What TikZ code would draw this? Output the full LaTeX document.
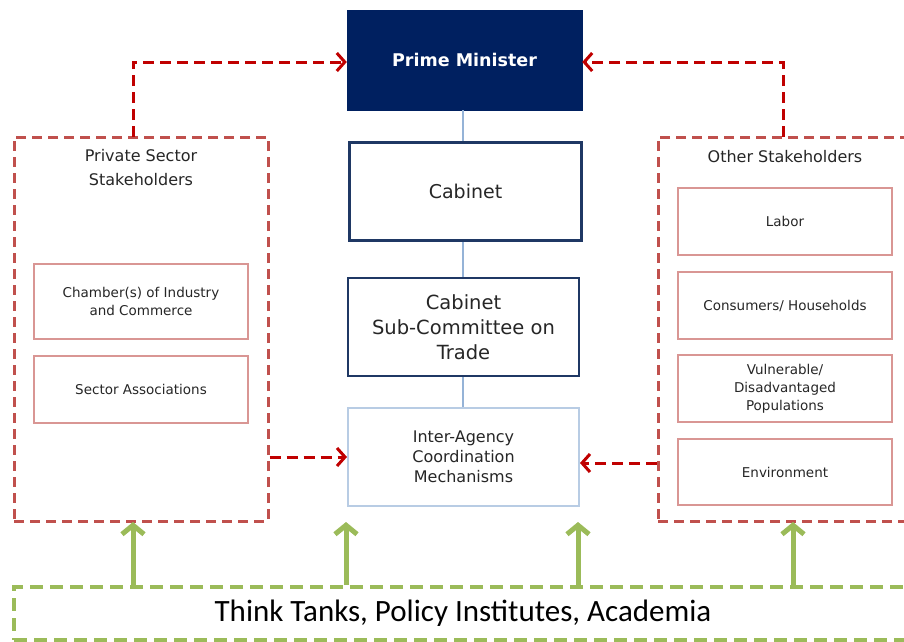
\documentclass[tikz,border=0pt]{standalone}
\usepackage{fontspec}
\setmainfont{DejaVu Sans}
\newfontfamily\thinkfont{Carlito}
\usetikzlibrary{arrows.meta}
\definecolor{navy}{HTML}{002060}
\definecolor{navyb}{HTML}{1F3864}
\definecolor{lblue}{HTML}{B8CCE4}
\definecolor{conn}{HTML}{95B3D7}
\definecolor{dred}{HTML}{C00000}
\definecolor{bred}{HTML}{C0504D}
\definecolor{pred}{HTML}{D99694}
\definecolor{lgreen}{HTML}{9BBB59}
\definecolor{txt}{HTML}{262626}
\tikzset{
  box/.style={rectangle, align=center, inner sep=2pt, text=txt},
  pmbox/.style={box, fill=navy, draw=navy, text=white, font=\fontsize{17.5}{20}\selectfont\bfseries},
  govbox/.style={box, draw=navyb, line width=2.5pt},
  iabox/.style={box, draw=lblue, line width=2pt, font=\fontsize{16}{20}\selectfont},
  groupbox/.style={rectangle, draw=bred, line width=3pt, dash pattern=on 10pt off 6pt},
  subbox/.style={box, draw=pred, line width=1.3pt, minimum width=214pt, font=\fontsize{13.5}{18}\selectfont},
  redarrow/.style={draw=dred, line width=3pt, dash pattern=on 11pt off 6pt, -{Straight Barb[length=8pt,width=18pt,line width=3pt]}},
  greenarrow/.style={draw=lgreen, line width=5pt, -{Straight Barb[length=9pt,width=22pt,line width=5pt]}},
  conline/.style={draw=conn, line width=1.5pt},
  titletext/.style={text=txt, align=center, font=\fontsize{16}{24}\selectfont}
}
\begin{document}
\begin{tikzpicture}[x=1pt,y=-1pt]
\useasboundingbox (0,0) rectangle (904,641);
\clip (0,0) rectangle (904,641);
% government column
\node[pmbox, minimum width=235pt, minimum height=100pt] (pm) at (464.5,60) {Prime Minister};
\node[govbox, minimum width=232pt, minimum height=98pt, font=\fontsize{19}{22}\selectfont] (cab) at (465.5,191.5) {Cabinet};
\node[govbox, line width=2pt, minimum width=231pt, minimum height=98pt, font=\fontsize{19.5}{25}\selectfont] (sub) at (463.5,327) {Cabinet\\Sub-Committee on\\Trade};
\node[iabox, minimum width=231pt, minimum height=98pt] (ia) at (463.5,457) {Inter-Agency\\Coordination\\Mechanisms};
\draw[conline] (pm.south -| 463,0) -- (cab.north -| 463,0);
\draw[conline] (cab.south -| 463,0) -- (sub.north -| 463,0);
\draw[conline] (sub.south -| 463,0) -- (ia.north -| 463,0);
% left group
\node[groupbox, minimum width=254pt, minimum height=384pt] (priv) at (141,329) {};
\node[titletext] (privt) at (141,168) {Private Sector\\Stakeholders};
\node[subbox, minimum height=75pt] (cham) at (141,301.5) {Chamber(s) of Industry\\and Commerce};
\node[subbox, minimum height=67pt] (sect) at (141,389.5) {Sector Associations};
% right group
\node[groupbox, minimum width=254pt, minimum height=384pt] (oth) at (785,329) {};
\node[titletext] (otht) at (785,157) {Other Stakeholders};
\node[subbox, minimum height=67pt] (lab) at (785,221.5) {Labor};
\node[subbox, minimum height=67pt] (cons) at (785,305.5) {Consumers/ Households};
\node[subbox, minimum height=67pt] (vul) at (785,388.5) {Vulnerable/\\Disadvantaged\\Populations};
\node[subbox, minimum height=66pt] (env) at (785,472) {Environment};
% bottom group
\node[rectangle, draw=lgreen, line width=4pt, dash pattern=on 13pt off 7pt, minimum width=898pt, minimum height=53pt, text=black, font=\thinkfont\fontsize{31}{34}\selectfont] (think) at (463,613.5) {Think Tanks, Policy Institutes, Academia};
% red arrows
\coordinate (pl) at (133,137);
\coordinate (pr) at (783,137);
\draw[redarrow] (pl) -- (133,62) -- (pm.west |- 0,62);
\draw[redarrow] (pr) -- (783,62) -- (pm.east |- 0,62);
\draw[redarrow] (priv.east |- 0,457) -- (ia.west |- 0,457);
\draw[redarrow] (oth.west |- 0,463) -- (ia.east |- 0,463);
% green arrows
\draw[greenarrow] (think.north -| 133,0) -- (133,522);
\draw[greenarrow] (think.north -| 346,0) -- (346,522);
\draw[greenarrow] (think.north -| 578,0) -- (578,522);
\draw[greenarrow] (think.north -| 793,0) -- (793,522);
\end{tikzpicture}
\end{document}
